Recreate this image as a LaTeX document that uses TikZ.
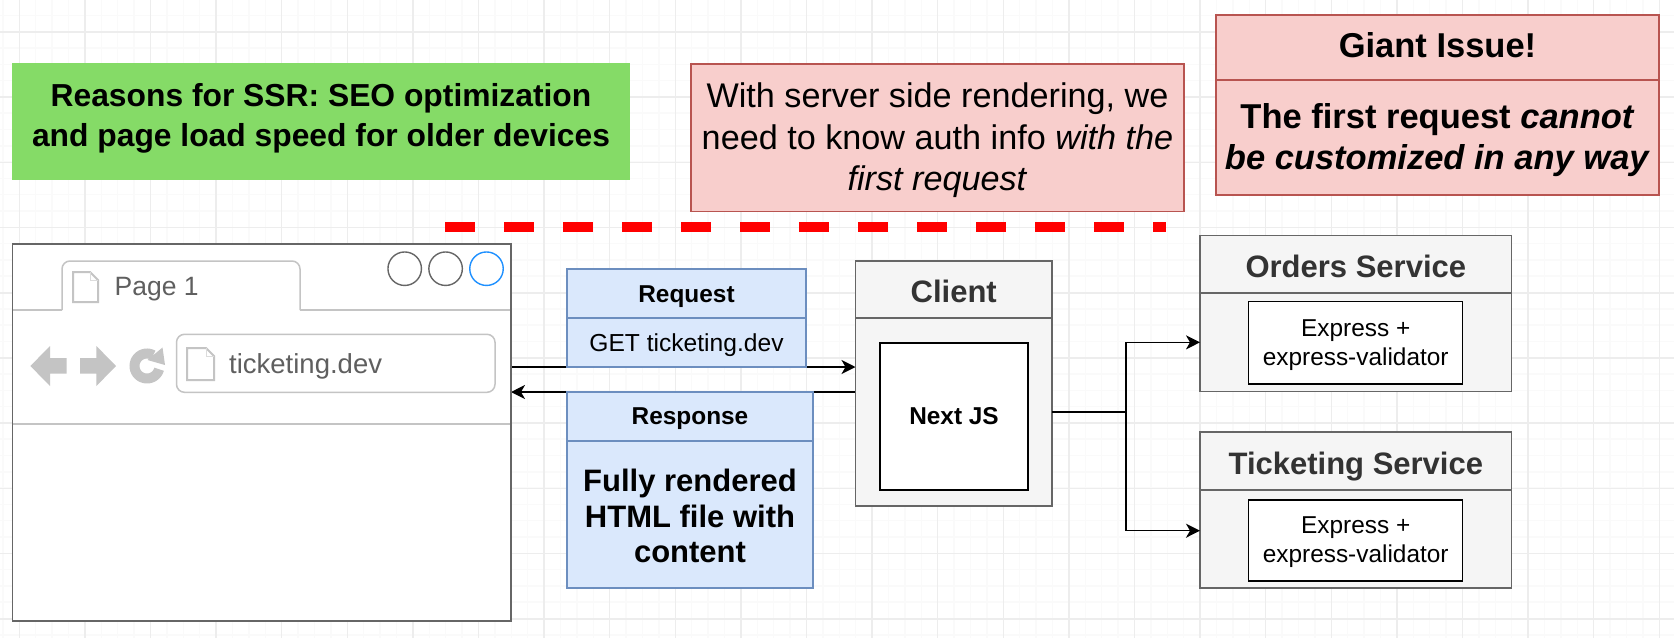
\documentclass[tikz,border=0pt]{standalone}
\usepackage{fontspec}
\setmainfont{Liberation Sans}
\usetikzlibrary{arrows.meta}
\pgfdeclarelayer{bg}
\pgfsetlayers{bg,main}
\definecolor{pinkfill}{HTML}{F8CECC}
\definecolor{pinkline}{HTML}{B85450}
\definecolor{bluefill}{HTML}{DAE8FC}
\definecolor{blueline}{HTML}{6C8EBF}
\definecolor{greyfill}{HTML}{F5F5F5}
\definecolor{greyline}{HTML}{666666}
\definecolor{greytext}{HTML}{333333}
\definecolor{chrome}{HTML}{C4C4C4}
\definecolor{chrometext}{HTML}{5F5F5F}
\definecolor{greenfill}{HTML}{85DB67}
\definecolor{closeblue}{HTML}{1E90FF}
\newcommand{\fsize}[2]{\fontsize{#1}{#2}\selectfont}
% options, name, x1, y1, x2, y2, downward text shift, text
\newcommand{\rectnode}[8][]{%
  \pgfmathsetmacro{\rw}{#5-#3}\pgfmathsetmacro{\rh}{#6-#4}%
  \pgfmathsetmacro{\rx}{(#5+#3)/2}\pgfmathsetmacro{\ry}{(#6+#4)/2}%
  \pgfmathsetmacro{\ty}{\ry+#7}%
  \node[draw,rectangle,inner sep=0pt,outer sep=0pt,line width=1.3pt,
    minimum width=\rw pt,minimum height=\rh pt,#1] (#2) at (\rx,\ry) {};
  \node[inner sep=0pt,align=center,#1,draw=none,fill=none] (#2text) at (\rx,\ty) {#8};}
\tikzset{
  pinkbox/.style={fill=pinkfill,draw=pinkline},
  bluebox/.style={fill=bluefill,draw=blueline},
  greybox/.style={fill=greyfill,draw=greyline,text=greytext},
  innerbox/.style={fill=white,draw=black},
  flow/.style={draw=black,line width=1.5pt,-{Stealth[length=14pt,width=14pt,inset=4pt]}},
  plainflow/.style={draw=black,line width=1.5pt},
  winbtn/.style={draw=greyline,circle,fill=white,line width=1.4pt,minimum size=33.5pt,inner sep=0pt},
  chromeline/.style={draw=chrome,line width=1.5pt},
  icon/.style={draw=chrome,line width=2pt,fill=white},
  navshape/.style={fill=chrome,draw=none},
  chrometxt/.style={text=chrometext,inner sep=0pt,anchor=west},
}
\begin{document}
\begin{tikzpicture}[x=1pt,y=-1pt]
\useasboundingbox (0,0) rectangle (1674,638);
\begin{pgfonlayer}{bg}
  \fill[white] (0,0) rectangle (1674,638);
  \foreach \k in {0,...,103} {
    \pgfmathsetmacro{\gx}{2.9+16.4*\k}
    \draw[line width=1.5pt,draw=black!2] (\gx,0) -- (\gx,638);
  }
  \foreach \k in {0,...,39} {
    \pgfmathsetmacro{\gy}{-0.9+16.3*\k}
    \draw[line width=1.5pt,draw=black!2] (0,\gy) -- (1674,\gy);
  }
  \foreach \k in {0,...,25} {
    \pgfmathsetmacro{\gx}{19.3+65.6*\k}
    \draw[line width=1.5pt,draw=black!7] (\gx,0) -- (\gx,638);
  }
  \foreach \k in {0,...,9} {
    \pgfmathsetmacro{\gy}{32+65.2*\k}
    \draw[line width=1.5pt,draw=black!7] (0,\gy) -- (1674,\gy);
  }
\end{pgfonlayer}

% top notes
\rectnode[fill=greenfill,draw=none,font=\bfseries\fsize{31.8}{39.6}]{reasons}{12}{63}{630}{180}{-3}{Reasons for SSR: SEO optimization\\and page load speed for older devices}
\rectnode[pinkbox,font=\fsize{34.2}{41.6}]{authnote}{691}{64}{1184}{211.5}{2.5}{With server side rendering, we\\need to know auth info \textit{with the}\\\textit{first request}}
\rectnode[pinkbox,font=\bfseries\fsize{34.5}{41}]{issuehead}{1216}{15}{1659}{80}{-2}{Giant Issue!}
\rectnode[pinkbox,font=\bfseries\fsize{34.5}{41}]{issuebody}{1216}{80}{1659}{195}{2.5}{The first request \textit{cannot}\\\textit{be customized in any way}}

% red dashed divider
\coordinate (dashA) at (445,227);
\coordinate (dashB) at (1165.5,227);
\draw[red,line width=9.5pt,dash pattern=on 29.5pt off 29.5pt] (dashA) -- (dashB);

% browser
\rectnode[fill=white,draw=greyline]{browser}{12.5}{244}{511}{621}{0}{}
\draw[chromeline] (13,310) -- (62,310);
\draw[chromeline,rounded corners=8pt] (62,310) -- (62,261) -- (300,261) -- (300,310);
\draw[chromeline] (300,310) -- (510,310);
\draw[chromeline] (13,424) -- (510,424);
\node[winbtn] (btnA) at (404.7,268.7) {};
\node[winbtn] (btnB) at (445.6,268.7) {};
\node[winbtn,draw=closeblue] (btnC) at (486.5,268.7) {};
% tab icon
\draw[icon] (73,272) -- (90,272) -- (98,280) -- (98,302) -- (73,302) -- cycle;
\draw[chrome!60,line width=1pt] (90,272) -- (90,280) -- (98,280);
\node[chrometxt,font=\fsize{26.5}{32}] (tabtext) at (114.5,289) {Page 1};
% navigation
\fill[navshape] (30.4,366) -- (50,346) -- (50,358) -- (66.6,358) -- (66.6,373.5) -- (50,373.5) -- (50,386) -- cycle;
\fill[navshape] (116,366) -- (96.4,346) -- (96.4,358) -- (80,358) -- (80,373.5) -- (96.4,373.5) -- (96.4,386) -- cycle;
\draw[chrome,line width=10pt] plot[smooth,domain=-60:-345,samples=30] ({147+12.5*cos(\x)},{366+12.5*sin(\x)});
\fill[navshape] (162.5,347.5) -- (165,365) -- (147.5,360) -- cycle;
% address bar
\draw[chromeline,rounded corners=8pt,fill=white] (176.5,334.3) rectangle (495,392.3);
\draw[icon] (187,348) -- (206,348) -- (214,356) -- (214,380) -- (187,380) -- cycle;
\draw[chrome!60,line width=1pt] (206,348) -- (206,356) -- (214,356);
\node[chrometxt,font=\fsize{27.5}{33}] (urltext) at (229,366) {ticketing.dev};

% request and response
\rectnode[bluebox,font=\bfseries\fsize{24.4}{29.3}]{reqhead}{567}{269}{806}{318}{3}{Request}
\rectnode[bluebox,font=\fsize{24.6}{29.5}]{reqbody}{567}{318}{806}{367}{3}{GET ticketing.dev}
\rectnode[bluebox,font=\bfseries\fsize{24.4}{29.3}]{resphead}{567}{392}{813}{441}{2.5}{Response}
\rectnode[bluebox,font=\bfseries\fsize{31}{35.8}]{respbody}{567}{441}{813}{588}{1.5}{Fully rendered\\HTML file with\\content}

% client
\rectnode[greybox,font=\bfseries\fsize{31}{37}]{clienthead}{855.5}{261}{1052}{318}{2}{Client}
\rectnode[greybox]{client}{855.5}{318}{1052}{506}{0}{}
\rectnode[innerbox,text=black,font=\bfseries\fsize{24.4}{29.3}]{nextjs}{880}{343}{1028}{490}{0}{Next JS}

% services
\rectnode[greybox,font=\bfseries\fsize{31}{37}]{ordershead}{1200}{235.7}{1511.7}{293}{2.5}{Orders Service}
\rectnode[greybox]{orders}{1200}{293}{1511.7}{391.7}{0}{}
\rectnode[innerbox,font=\fsize{24.4}{29}]{ordersapp}{1248.7}{301.7}{1462.7}{384}{2}{Express +\\express-validator}
\rectnode[greybox,font=\bfseries\fsize{31}{37}]{tickethead}{1200}{432}{1511.7}{490}{5.5}{Ticketing Service}
\rectnode[greybox]{ticket}{1200}{490}{1511.7}{588}{0}{}
\rectnode[innerbox,font=\fsize{24.4}{29}]{ticketapp}{1248.7}{500}{1462.7}{581}{1.5}{Express +\\express-validator}

% connectors
\begin{pgfonlayer}{bg}
  \draw[flow] (browser.east |- reqbody.south) -- (client.west |- reqbody.south);
  \draw[flow] (client.west |- resphead.north) -- (browser.east |- resphead.north);
\end{pgfonlayer}
\coordinate (junction) at (1126,412);
\draw[plainflow] (client.east |- junction) -- (junction);
\draw[flow] (junction) |- (orders.west);
\draw[flow] (junction) |- (ticket.west |- 0,530.7);
\end{tikzpicture}
\end{document}
